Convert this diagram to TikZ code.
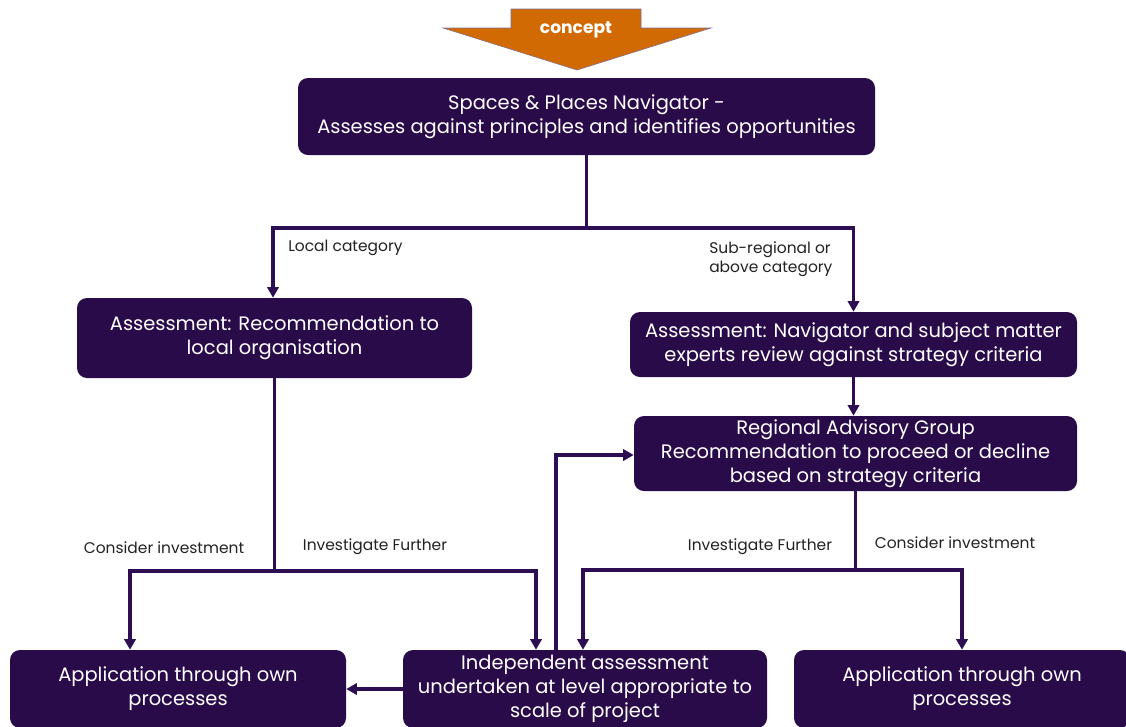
\documentclass[tikz,border=0pt]{standalone}
\usepackage{fontspec}
\setmainfont{Poppins}
\usetikzlibrary{arrows.meta}
\definecolor{plum}{HTML}{2A0B4A}
\definecolor{wire}{HTML}{2E0E52}
\definecolor{conceptorange}{HTML}{D26A04}
\definecolor{labelgrey}{HTML}{222222}
\tikzset{
  x=0.75pt, y=-0.75pt,
  box/.style={draw=none, fill=plum, rounded corners=7.5pt, text=white,
    align=center, inner sep=0pt, font=\fontsize{14.6}{18}\selectfont},
  conn/.style={draw=wire, line width=2.3pt,
    -{Triangle[length=8pt,width=8.5pt]}},
  plain/.style={draw=wire, line width=2.3pt},
  lbl/.style={text=labelgrey, inner sep=0pt, font=\fontsize{11.6}{14.3}\selectfont}
}
\begin{document}
\begin{tikzpicture}
\useasboundingbox (0,0) rectangle (1126,726);
\clip (0,0) rectangle (1126,726);

% concept arrow
\path[fill=conceptorange, draw=plum!60, line width=0.4pt]
  (511,9) -- (641,9) -- (641,28) -- (711,28) -- (577,70) -- (443,28) -- (511,28) -- cycle;
\node[text=white, font=\fontsize{12.8}{15}\bfseries] (concept) at (576,30) {concept};

% boxes
\node[box, minimum width=577*0.75pt, minimum height=77*0.75pt] (nav) at (586.5,116.5)
  {Spaces \& Places Navigator -\\Assesses against principles and identifies opportunities};
\node[box, minimum width=395*0.75pt, minimum height=80*0.75pt] (locA) at (274.5,338)
  {Assessment: Recommendation to\\local organisation};
\node[box, minimum width=447*0.75pt, minimum height=65*0.75pt] (subA) at (853.5,344.5)
  {Assessment: Navigator and subject matter\\experts review against strategy criteria};
\node[box, minimum width=443*0.75pt, minimum height=75*0.75pt] (regA) at (855.5,453.5)
  {Regional Advisory Group\\Recommendation to proceed or decline\\based on strategy criteria};
\node[box, minimum width=336*0.75pt, minimum height=78*0.75pt] (appL) at (178,689)
  {Application through own\\processes};
\node[box, minimum width=364*0.75pt, minimum height=78*0.75pt] (indep) at (585,689)
  {Independent assessment\\undertaken at level appropriate to\\scale of project};
\node[box, minimum width=336*0.75pt, minimum height=78*0.75pt] (appR) at (962,689)
  {Application through own\\processes};

% junctions
\coordinate (split) at (586.5,228);
\coordinate (locSplit) at (274.5,571);
\coordinate (regSplit) at (855.5,570);

% navigator to the two categories
\draw[plain] (nav.south) -- (split);
\draw[conn] (split) -| ([xshift=-1.5*0.75pt]locA.north);
\draw[conn] (split) -| (subA.north);
\node[lbl, anchor=west] (lc) at (288,248) {Local category};
\node[lbl, anchor=north west, align=left] (sr) at (709,241) {Sub-regional or\\above category};

% sub-regional chain
\draw[conn] (subA.south) -- (subA.south |- regA.north);

% local outcomes
\draw[plain] (locA.south) -- (locSplit);
\draw[conn] (locSplit) -| ([xshift=-48*0.75pt]appL.north);
\draw[conn] (locSplit) -| ([xshift=-49*0.75pt]indep.north);
\node[lbl] (ci1) at (164,548) {Consider investment};
\node[lbl] (if1) at (375,547) {Investigate Further};

% regional outcomes
\draw[plain] (regA.south) -- (regSplit);
\draw[conn] (regSplit) -| ([xshift=-2*0.75pt]indep.north);
\draw[conn] (regSplit) -| (appR.north);
\node[lbl] (if2) at (760,547) {Investigate Further};
\node[lbl] (ci2) at (955,543) {Consider investment};

% feedback and hand-off from the independent assessment
\draw[conn] ([xshift=-29*0.75pt]indep.north) |- ([yshift=-1.5*0.75pt]regA.west);
\draw[conn] (indep.west) -- (appL.east);
\end{tikzpicture}
\end{document}
